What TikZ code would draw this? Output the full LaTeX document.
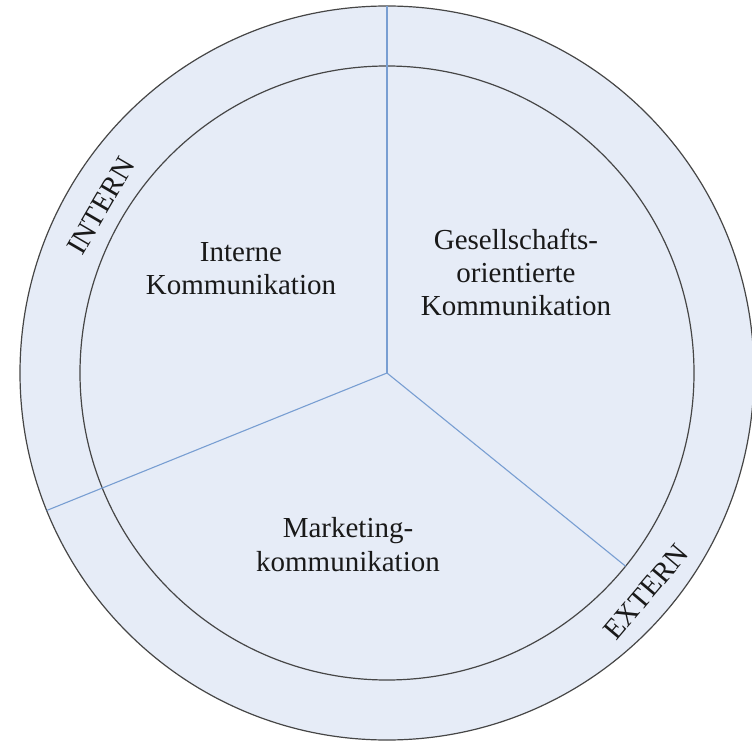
\documentclass[tikz,border=0pt]{standalone}
\usepackage{fontspec}
\setmainfont{Liberation Serif}
\definecolor{ringfill}{RGB}{230,236,247}
\definecolor{circlegray}{RGB}{70,70,70}
\definecolor{spokeblue}{RGB}{120,158,210}
\begin{document}
\begin{tikzpicture}[x=1pt,y=1pt,
  ring/.style={circle, draw=circlegray, line width=1.2pt, fill=ringfill, inner sep=0pt, outer sep=0pt},
  spoke/.style={draw=spokeblue, line width=1.1pt},
  txt/.style={font=\fontsize{29}{33}\selectfont, align=center, text=black!90, inner sep=0pt}]
\useasboundingbox (0,0) rectangle (752,740);
\coordinate (C) at (387,367);
\node[ring, minimum size=734pt] (outer) at (C) {};
\node[ring, minimum size=614pt] (inner) at (C) {};
\draw[spoke] (C) -- (outer.90);
\draw[spoke] (C) -- (outer.202.5);
\draw[spoke] (C) -- (inner.-39.2);
\node[txt] (intk) at (241,471) {Interne\\Kommunikation};
\node[txt] (gesk) at (516,468) {Gesellschafts-\\orientierte\\Kommunikation};
\node[txt, font=\fontsize{29}{34}\selectfont] (mark) at (348,195) {Marketing-\\kommunikation};
\node[txt, rotate=59.7] (intern) at (101,534) {INTERN};
\node[txt, rotate=49.8] (extern) at (646,148) {EXTERN};
\end{tikzpicture}
\end{document}
